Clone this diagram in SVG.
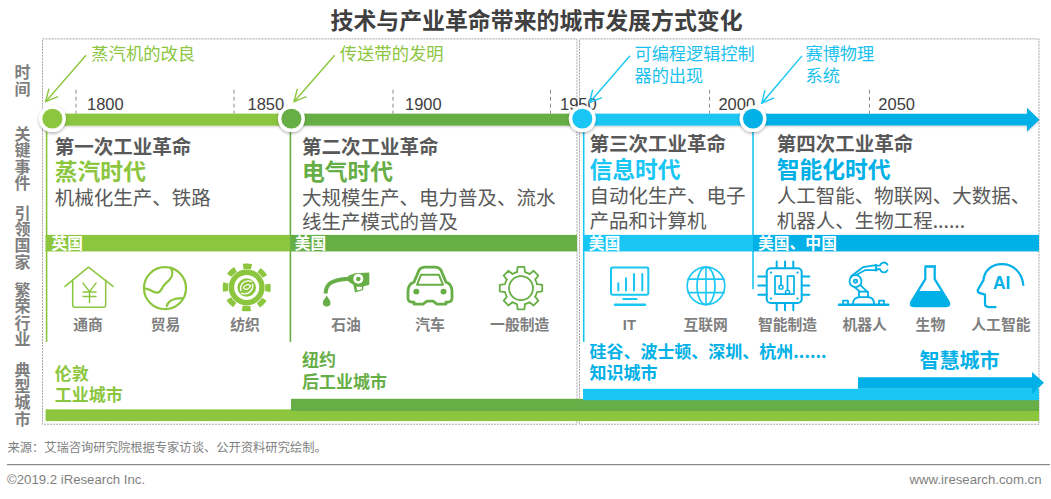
<svg xmlns="http://www.w3.org/2000/svg" width="1051" height="499" viewBox="0 0 1051 499">
<style>
text{font-family:"Noto Sans CJK SC","Noto Sans",sans-serif}
.latin{font-family:"Liberation Sans",Arial,sans-serif}
.title{font-size:22.9px;font-weight:700;fill:#404040}
.side{font-size:16px;font-weight:700;fill:#7f7f7f;writing-mode:vertical-rl;letter-spacing:.3px}
.callG{font-size:17.3px;fill:#8cc63f}
.callB{font-size:17.2px;fill:#1bc1ee}
.year{font-size:16.5px;fill:#404040}
.h{font-size:19.5px;font-weight:700;fill:#595959}
.era{font-size:22.8px;font-weight:700}
.b{font-size:19.5px;fill:#595959}
.band{font-size:15.8px;font-weight:700;fill:#fff}
.lab{font-size:14.8px;font-weight:700;fill:#7f7f7f;text-anchor:middle}
.city{font-size:17px;font-weight:700}
.g1{fill:#8cc63f}.g2{fill:#66ae45}.b1{fill:#1ac6f3}.b2{fill:#00b0e6}
.sg1{stroke:#8cc63f}.sg2{stroke:#66ae45}.sb1{stroke:#1ac6f3}.sb2{stroke:#00b0e6}
.o{fill:none;stroke-linecap:round;stroke-linejoin:round}
.frame{fill:none;stroke:#a6a6a6;stroke-width:1;stroke-dasharray:2 1}
.tick{stroke:#8c8c8c;stroke-width:1;stroke-dasharray:4 3}
.foot{font-size:12.3px;fill:#7f7f7f}
.copy{font-size:13.2px;fill:#7f7f7f}
</style>
<defs>
<filter id="sh" x="-30%" y="-30%" width="160%" height="170%"><feDropShadow dx="0" dy="1.5" stdDeviation="1.5" flood-color="#000" flood-opacity=".3"/></filter>
<filter id="bs" x="-2%" y="-30%" width="104%" height="170%"><feDropShadow dx="0" dy="1" stdDeviation="1" flood-color="#000" flood-opacity=".2"/></filter>
<marker id="ag" viewBox="0 0 14 14" refX="13" refY="7" markerWidth="14" markerHeight="14" markerUnits="userSpaceOnUse" orient="auto"><path d="M1 1L13 7L1 13" fill="none" stroke="#8cc63f" stroke-width="1.4"/></marker>
<marker id="ab" viewBox="0 0 14 14" refX="13" refY="7" markerWidth="14" markerHeight="14" markerUnits="userSpaceOnUse" orient="auto"><path d="M1 1L13 7L1 13" fill="none" stroke="#1ac6f3" stroke-width="1.4"/></marker>
<path id="tooth" d="M-3.99-16.01L-3.36-21.24L3.36-21.24L3.99-16.01A16.5 16.5 0 0 1 8.5-14.14"/>
</defs>
<rect width="1051" height="499" fill="#fff"/>
<g transform="translate(0 -1) scale(1 .997)">
<text class="title" x="330.5" y="30.5">技术与产业革命带来的城市发展方式变化</text>
<g id="frames">
<rect class="frame" x="42.5" y="40" width="534.5" height="386.5"/>
<rect class="frame" x="579.5" y="40" width="459.5" height="386.5"/>
</g>
<g id="axis-labels">
<text class="side" x="22.6" y="65.5">时间</text>
<text class="side" x="22.6" y="127.5">关键事件</text>
<text class="side" x="22.6" y="206.5">引领国家</text>
<text class="side" x="22.6" y="284">繁荣行业</text>
<text class="side" x="22.6" y="364">典型城市</text>
</g>
<g id="timeline">
<g stroke-width="1.6">
<line class="sg1" x1="46.6" y1="127" x2="46.6" y2="344"/>
<line class="sg2" x1="290.4" y1="127" x2="290.4" y2="344"/>
<line class="sb1" x1="583.7" y1="127" x2="583.7" y2="344"/>
<line class="sb1" x1="753" y1="127" x2="753" y2="291"/>
</g>
<g>
<line class="tick" x1="76" y1="91" x2="76" y2="115"/>
<line class="tick" x1="234" y1="91" x2="234" y2="115"/>
<line class="tick" x1="393" y1="91" x2="393" y2="115"/>
<line class="tick" x1="550.5" y1="91" x2="550.5" y2="115"/>
<line class="tick" x1="709.6" y1="91" x2="709.6" y2="115"/>
<line class="tick" x1="869.5" y1="91" x2="869.5" y2="115"/>
</g>
<g>
<text class="year latin" x="87" y="111">1800</text>
<text class="year latin" x="247.5" y="111">1850</text>
<text class="year latin" x="405" y="111">1900</text>
<text class="year latin" x="560" y="111">1950</text>
<text class="year latin" x="718.4" y="111">2000</text>
<text class="year latin" x="878.3" y="111">2050</text>
</g>
<g filter="url(#bs)">
<rect class="g1" x="52" y="115" width="240" height="12"/>
<rect class="g2" x="291" y="115" width="292" height="12"/>
<rect class="b1" x="582" y="115" width="172" height="12"/>
<path class="b2" d="M753 115H1027V109L1039.5 121L1027 133V127H753Z"/>
</g>
</g>
<g id="connectors" fill="none" stroke-width="1.4">
<line class="sg1" x1="86" y1="56.5" x2="45.6" y2="103" marker-end="url(#ag)"/>
<line class="sg1" x1="334.7" y1="56.5" x2="294" y2="103" marker-end="url(#ag)"/>
<line class="sb1" x1="630" y1="57" x2="589.4" y2="104" marker-end="url(#ab)"/>
<line class="sb1" x1="802" y1="57" x2="761.8" y2="104.5" marker-end="url(#ab)"/>
</g>
<g id="milestones">
<g id="m1"><circle cx="52.4" cy="120" r="13.5" fill="#fff" filter="url(#sh)"/><circle class="g1" cx="52.4" cy="120" r="10"/><text class="callG" x="91.3" y="61">蒸汽机的改良</text></g>
<g id="m2"><circle cx="291.4" cy="120" r="13.5" fill="#fff" filter="url(#sh)"/><circle class="g2" cx="291.4" cy="120" r="10"/><text class="callG" x="339.8" y="61">传送带的发明</text></g>
<g id="m3"><circle cx="582.3" cy="120" r="13.5" fill="#fff" filter="url(#sh)"/><circle class="b1" cx="582.3" cy="120" r="10"/><text class="callB" x="634.5" y="61.5">可编程逻辑控制</text><text class="callB" x="634.5" y="83">器的出现</text></g>
<g id="m4"><circle cx="753" cy="120" r="13.5" fill="#fff" filter="url(#sh)"/><circle class="b2" cx="753" cy="120" r="10"/><text class="callB" x="805.5" y="61.5">赛博物理</text><text class="callB" x="805.5" y="83">系统</text></g>
</g>
<g id="era-1">
<text class="h" x="54.8" y="155">第一次工业革命</text>
<text class="era g1" x="54.8" y="181.7">蒸汽时代</text>
<text class="b" x="54.8" y="206.2">机械化生产、铁路</text>
<rect class="g1" x="45.6" y="236.6" width="244.8" height="16.6"/>
<text class="band" x="51.4" y="250.5">英国</text>
</g>
<g id="era-2">
<text class="h" x="302" y="155">第二次工业革命</text>
<text class="era g2" x="302" y="182">电气时代</text>
<text class="b" x="302" y="206.5">大规模生产、电力普及、流水</text>
<text class="b" x="302" y="231">线生产模式的普及</text>
<rect class="g2" x="290.4" y="236.6" width="286.6" height="16.6"/>
<text class="band" x="294.8" y="250.5">美国</text>
</g>
<g id="era-3">
<text class="h" x="589.4" y="152.5">第三次工业革命</text>
<text class="era b1" x="589.4" y="180">信息时代</text>
<text class="b" x="589.4" y="205">自动化生产、电子</text>
<text class="b" x="589.4" y="229.6">产品和计算机</text>
<rect class="b1" x="583" y="236.6" width="170" height="16.6"/>
<text class="band" x="588.7" y="250.5">美国</text>
</g>
<g id="era-4">
<text class="h" x="776.7" y="152.5">第四次工业革命</text>
<text class="era b2" x="776.7" y="180">智能化时代</text>
<text class="b" x="776.7" y="205">人工智能、物联网、大数据、</text>
<text class="b" x="776.7" y="229.6">机器人、生物工程......</text>
<rect class="b2" x="753" y="236.6" width="286" height="16.6"/>
<text class="band" x="758" y="250.5">美国、中国</text>
</g>
<g id="icon-trade-house" class="o sg1" stroke-width="1.5">
<path d="M65 288.3L88.5 269L113 288.3"/>
<path d="M72.7 282V307Q72.7 309.3 75 309.3H103.4Q105.7 309.3 105.7 307V282"/>
<path d="M83 285L89.5 293.5L96 285M89.5 293.5V304.5M83 294H96M83 298.5H96"/>
<text class="lab" x="88" y="332" stroke="none">通商</text>
</g>
<g id="icon-commerce" class="o sg1" stroke-width="2.2">
<circle cx="165" cy="290" r="21"/>
<path d="M170.5 269.5C175 276 171 281 165.5 285.5C160.5 290 162 295 156.5 294.5C152.5 294 149 290 144.5 290.5"/>
<path d="M166.7 308C168 303 174 300 181.7 300"/>
<text class="lab" x="165.6" y="332" stroke="none">贸易</text>
</g>
<g id="icon-textile">
<circle class="g1" cx="246.7" cy="289.3" r="18"/>
<circle cx="246.7" cy="289.3" r="21.3" fill="none" stroke="#8cc63f" stroke-width="5.4" stroke-dasharray="8.6 8.13" stroke-dashoffset="4.3"/>
<circle cx="246.7" cy="289.3" r="12.5" fill="#fff"/>
<circle class="g1" cx="246.7" cy="289.3" r="9.3"/>
<path d="M241 293C239 285 246 281 252 283.5M252.5 285.5C254 293 247 297.5 241 295M243.5 290C244 287 248 285.5 250.5 287.5C249 291 246 292.5 243.5 290" fill="none" stroke="#fff" stroke-width="1.3"/>
<text class="lab" x="245" y="332">纺织</text>
</g>
<g id="icon-oil">
<path d="M325.7 295.5C325.7 286 331 281.5 349 280.5" fill="none" stroke="#66ae45" stroke-width="4"/>
<path class="g2" d="M348.3 277.7L355 275L369.3 274.3V286.7L363.3 288.3V292L355 294.3L353.3 286.7L348.3 283.3Z"/>
<circle cx="358.3" cy="280.5" r="5" fill="#fff"/><circle class="g2" cx="358.3" cy="280.8" r="2.3"/>
<path d="M356.5 288.5H362V291L357 292.3Z" fill="#fff"/>
<path class="g2" d="M326.7 297.5C328 300.5 330.5 302 330.5 304.7A3.8 3.8 0 0 1 322.9 304.7C322.9 302 325.5 300.5 326.7 297.5Z"/>
<text class="lab" x="346" y="332">石油</text>
</g>
<g id="icon-car">
<g class="o sg2" stroke-width="2.8">
<path d="M408 293Q408 286 414 284L419 272Q421 269 425 269H435Q439 269 441 272L446 284Q452 286 452 293V300Q452 304 448 304H446V306H437L433 303H427L423 306H414V304H412Q408 304 408 300Z"/>
<path d="M421 276.7H439L443 286.7H417Z" stroke-width="2"/>
</g>
<circle class="g2" cx="416.3" cy="293.5" r="3"/><circle class="g2" cx="443.5" cy="293.5" r="3"/>
<text class="lab" x="430" y="332">汽车</text>
</g>
<g id="icon-gear">
<g transform="translate(521 290)" class="o sg2" stroke-width="1.8">
<use href="#tooth"/>
<use href="#tooth" transform="rotate(45)"/>
<use href="#tooth" transform="rotate(90)"/>
<use href="#tooth" transform="rotate(135)"/>
<use href="#tooth" transform="rotate(180)"/>
<use href="#tooth" transform="rotate(225)"/>
<use href="#tooth" transform="rotate(270)"/>
<use href="#tooth" transform="rotate(315)"/>
<circle r="12"/>
</g>
<text class="lab" x="519.7" y="332">一般制造</text>
</g>
<g id="icon-it">
<g class="o sb1" stroke-width="2">
<rect x="611" y="269.3" width="37.3" height="27.4" rx="1.5"/>
<path d="M618.3 292.3V285M626 292.3V280M634 292.3V275.7M642.3 292.3V275.7"/>
<path d="M623.3 301H636.7"/>
<path d="M615 306.7H645" stroke-width="2.6"/>
</g>
<text class="lab latin" x="629.4" y="332">IT</text>
</g>
<g id="icon-internet">
<g class="o sb1" stroke-width="1.6">
<circle cx="706" cy="287.7" r="18.8"/>
<ellipse cx="706" cy="287.7" rx="9" ry="18.8"/>
<path d="M706 269V306.5M688 281H724M688 294.5H724"/>
</g>
<text class="lab" x="705.6" y="332">互联网</text>
</g>
<g id="icon-chip">
<g class="o sb2" stroke-width="2">
<rect x="766.7" y="270" width="35" height="35" rx="4"/>
<path d="M776.7 263.3V270M785 263.3V270M793.3 263.3V270M776.7 305V312.3M785 305V312.3M793.3 305V312.3M758.3 278.3H766.7M758.3 287.3H766.7M758.3 296.7H766.7M801.7 278.3H809.3M801.7 287.3H809.3M801.7 296.7H809.3"/>
<path d="M775 278H781V287M787.5 292V278H794V296H775V278" stroke-width="1.7"/>
<circle cx="781" cy="289" r="2" stroke-width="1.5"/>
<circle cx="787.5" cy="294" r="2" stroke-width="1.5"/>
</g>
<circle class="b2" cx="771" cy="274.5" r="1.1"/><circle class="b2" cx="797.5" cy="274.5" r="1.1"/><circle class="b2" cx="771" cy="300.5" r="1.1"/><circle class="b2" cx="797.5" cy="300.5" r="1.1"/>
<text class="lab" x="787.5" y="332">智能制造</text>
</g>
<g id="icon-robot">
<g class="o sb2" stroke-width="1.8">
<path d="M839 306.7H888.3" stroke-width="2.4"/>
<path d="M843 306V302.5H848V306M879 306V302.5H884V306"/>
<path d="M853 306C853 300 857 299 860 299H868C871 299 874 300 874 306"/>
<path d="M859 299V293.5H868V299"/>
<circle cx="855.5" cy="283" r="6"/><circle cx="855.5" cy="283" r="1.6"/>
<path d="M851 278L863 269L876 267M856.5 276.5L865 272L877 272M860.5 287L867 293.5M855 289.5L860 293.5"/>
<path d="M876 266.5V272.5"/>
<path d="M887.5 266.5A4 4 0 0 0 880 267.5H877M887.5 272A4 4 0 0 1 880 271H877"/>
</g>
<text class="lab" x="864.7" y="332">机器人</text>
</g>
<g id="icon-bio">
<path d="M924.5 268.3H936" stroke="#00b0e6" stroke-width="2.6" fill="none"/>
<path d="M925.3 269V281L911.5 303.5Q909 308 914 308H946Q951 308 948.5 303.5L934.7 281V269" fill="none" stroke="#00b0e6" stroke-width="2.2"/>
<path class="b2" d="M918.5 293H941.5L948.5 303.5Q951 308 946 308H914Q909 308 911.5 303.5Z"/>
<text class="lab" x="930.4" y="332">生物</text>
</g>
<g id="icon-ai">
<path class="o sb2" stroke-width="2.2" d="M1023.3 286.7C1022 274 1013 266 1002 266C991 266 984 273 983.5 282L977.7 292Q977.5 294.5 980 295L985 296.5V305.5Q985 309 989 309H995.5"/>
<text x="1001.7" y="290.5" text-anchor="middle" font-size="17.5" font-weight="700" class="b2 latin">AI</text>
<text class="lab" x="1000.9" y="332">人工智能</text>
</g>
<g id="cities">
<rect class="g1" x="45.6" y="411.6" width="993.4" height="11.8"/>
<rect class="g2" x="291" y="401" width="748" height="12.3"/>
<rect class="b1" x="583" y="391" width="456" height="11.4"/>
<path class="b2" d="M858 379.4H1032V374L1044 385L1032 396.3V391H858Z"/>
<text class="city g1" x="54.8" y="382.5">伦敦</text>
<text class="city g1" x="54.8" y="403">工业城市</text>
<text class="city g2" x="302" y="368.3">纽约</text>
<text class="city g2" x="302" y="390.3">后工业城市</text>
<text class="city b2" x="589.4" y="360">硅谷、波士顿、深圳、杭州......</text>
<text class="city b2" x="589.4" y="381">知识城市</text>
<text class="city b2" x="919.6" y="370" style="font-size:20px">智慧城市</text>
</g>
<g id="footer">
<text class="foot" x="7.4" y="454">来源：艾瑞咨询研究院根据专家访谈、公开资料研究绘制。</text>
<line x1="7" y1="467" x2="1050" y2="467" stroke="#8c8c8c" stroke-width="1.2"/>
<text class="copy latin" x="7" y="486.5">©2019.2 iResearch Inc.</text>
<text class="copy latin" x="1041.5" y="486.5" text-anchor="end">www.iresearch.com.cn</text>
</g>
</g>
</svg>
